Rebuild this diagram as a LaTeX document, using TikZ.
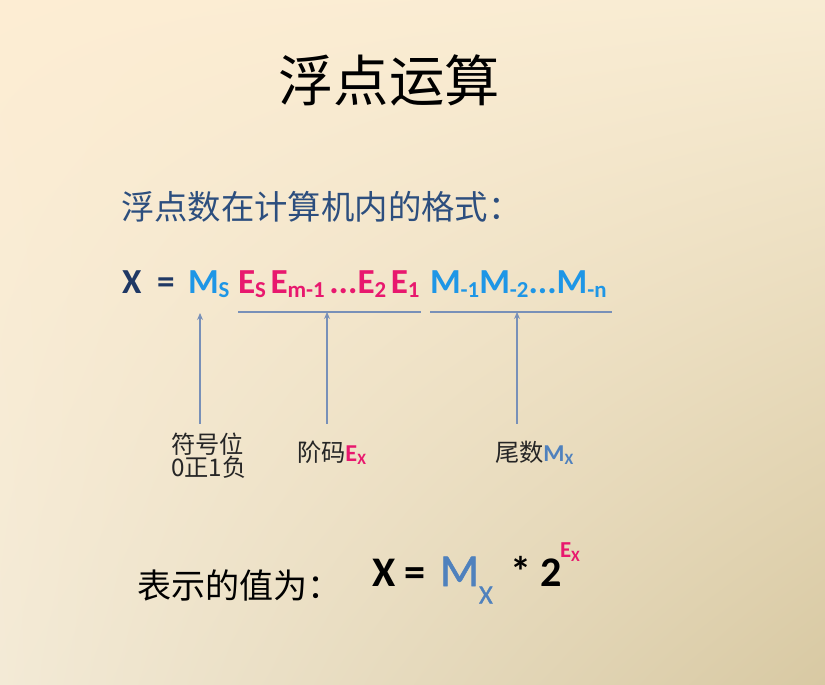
\documentclass[tikz,border=0pt]{standalone}
\usepackage{fontspec}
\setmainfont{Carlito}
\newfontfamily\cjk{Noto Sans CJK SC}
\newfontfamily\medium[FakeBold=1.3]{Carlito}
\usetikzlibrary{arrows.meta,positioning,shadings}

\definecolor{bgtl}{HTML}{FDEDD3}
\definecolor{bgtr}{HTML}{F8ECD3}
\definecolor{bgbl}{HTML}{F3EAD6}
\definecolor{bgbr}{HTML}{D8C9A3}
\definecolor{navy}{HTML}{1F3864}
\definecolor{skyblue}{HTML}{1E96E6}
\definecolor{rosered}{HTML}{E8186E}
\definecolor{steel}{HTML}{4F81BD}
\definecolor{lineblue}{HTML}{7890B8}
\definecolor{titleblue}{HTML}{2C4E7E}

% subscript in the running text
\newcommand{\subidx}[2][13]{\raisebox{-1.8pt}{\fontsize{#1}{#1}\selectfont #2}}
\newcommand{\gap}{\hspace{0.13em}}

\tikzset{
	cjktext/.style={font=\cjk\fontsize{#1}{#1}\selectfont},
	fmla/.style={font=\bfseries\fontsize{20}{20}\selectfont, anchor=base west},
	pointer/.style={draw=lineblue, line width=0.6pt, -{Stealth[length=4pt,width=3.4pt]}},
	brace/.style={draw=lineblue, line width=0.9pt}
}

\begin{document}
\begin{tikzpicture}[x=0.02cm, y=-0.02cm, every node/.style={inner sep=0pt, outer sep=0pt}]

	% background
	\shade[upper left=bgtl, upper right=bgtr, lower left=bgbl, lower right=bgbr]
		(0,0) rectangle (825,685);
	\useasboundingbox (0,0) rectangle (825,685);

	% headings
	\node[cjktext=31.5] (title) at (389,80) {浮点运算};
	\node[cjktext=19.0, text=titleblue, anchor=west] (intro) at (121,207) {浮点数在计算机内的格式：};

	% format line
	\node[fmla, text=navy] (xeq) at (122,294) {X \ =};
	\node[fmla, text=skyblue] (sign) at (188,294) {M\subidx{S}};
	\node[fmla, text=rosered] (expo) at (238,294) {E\subidx{S}\gap E\subidx{m-1}\gap ...E\subidx{2}\gap E\subidx{1}};
	\node[fmla, text=skyblue] (mant) at (430,294) {M\subidx{-1}M\subidx{-2}...M\subidx{-n}};

	% underlines
	\coordinate (expoL) at (238,312);
	\coordinate (expoR) at (421,312);
	\coordinate (mantL) at (430,312);
	\coordinate (mantR) at (612,312);
	\draw[brace] (expoL) -- (expoR);
	\draw[brace] (mantL) -- (mantR);

	% pointers
	\coordinate (signTip) at (200,313);
	\coordinate (signFoot) at (200,424);
	\coordinate (expoTip) at (327,312);
	\coordinate (expoFoot) at (327,424);
	\coordinate (mantTip) at (517,312);
	\coordinate (mantFoot) at (517,424);
	\draw[pointer] (signFoot) -- (signTip);
	\draw[pointer] (expoFoot) -- (expoTip);
	\draw[pointer] (mantFoot) -- (mantTip);

	% labels
	\node[cjktext=13.8, align=left, anchor=north west, text=black!85] (signlbl) at (171,433)
		{符号位\\[-0.5pt]0正1负};
	\node[cjktext=13.8, anchor=west, text=black!85] (expolbl) at (297,453)
		{阶码{\fontspec{Carlito}\bfseries\color{rosered}E\subidx[9]{X}}};
	\node[cjktext=13.8, anchor=west, text=black!85] (mantlbl) at (495,453)
		{尾数{\fontspec{Carlito}\bfseries\color{steel}M\subidx[9]{X}}};

	% value
	\node[cjktext=19.4, anchor=west] (vallbl) at (137,585) {表示的值为：};
	\node[font=\bfseries\fontsize{24}{24}\selectfont, anchor=base west] (valx) at (372,586) {X =};
	\node[font=\medium\fontsize{26}{26}\selectfont, anchor=base west, text=steel] (valm) at (440,586)
		{M\raisebox{-10pt}{\fontsize{15}{15}\selectfont X}};
	\node[font=\bfseries\fontsize{24}{24}\selectfont, anchor=base west] (valtwo) at (510,586) {* 2};
	\node[font=\bfseries\fontsize{13}{13}\selectfont, anchor=base west, text=rosered] (valexp) at (560,558)
		{E\raisebox{-2pt}{\fontsize{9}{9}\selectfont X}};

\end{tikzpicture}
\end{document}
